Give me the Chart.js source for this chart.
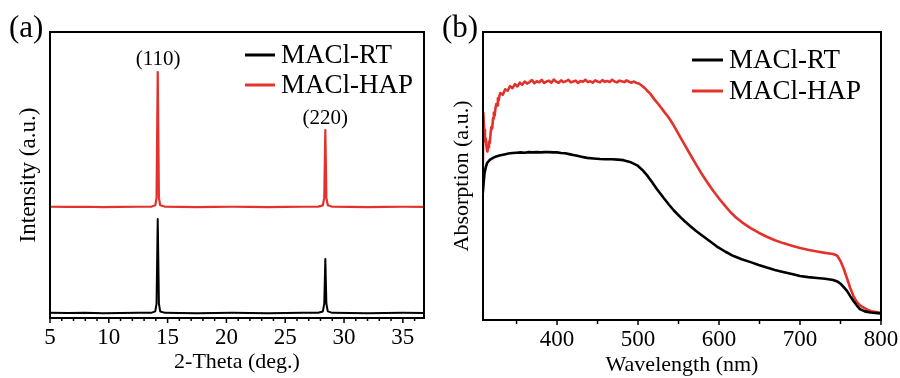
<!DOCTYPE html>
<html><head><meta charset="utf-8">
<script src="https://cdn.jsdelivr.net/npm/chart.js@4.4.1/dist/chart.umd.min.js"></script>
<style>
html,body{margin:0;padding:0;background:#fff;}
#wrap{position:relative;width:900px;height:378px;overflow:hidden;background:#fff;}
canvas{position:absolute;left:0;top:0;}
</style></head><body>
<div id="wrap"><canvas id="ca" width="900" height="378"></canvas><canvas id="cb" width="900" height="378"></canvas></div>
<script>
// ---------- Panel (a): XRD ----------
const seriesNames = ['MACl-RT', 'MACl-HAP'];
const xrdTheta = [5, 6.5, 8, 9.5, 11, 12.5, 13.6, 13.95, 14.06, 14.16, 14.26, 14.37, 14.8, 16, 17.5, 19, 20.5, 22, 23.5, 25, 26.5, 27.8, 28.2, 28.32, 28.41, 28.5, 28.62, 29, 30.5, 32, 33.5, 35, 36.8];
const xrdRT  = [1.8, 1.75, 1.8, 1.7, 1.75, 1.8, 1.8, 2.3, 5, 34.6, 5, 2.3, 1.8, 1.75, 1.7, 1.75, 1.8, 1.75, 1.7, 1.75, 1.8, 1.85, 2.3, 5, 20.6, 5, 2.3, 1.8, 1.75, 1.7, 1.75, 1.8, 1.75];
const xrdHAP = [38.9, 38.85, 38.9, 38.8, 38.85, 38.9, 38.9, 39.4, 42, 86, 42, 39.4, 38.9, 38.85, 38.8, 38.85, 38.9, 38.85, 38.8, 38.85, 38.9, 38.95, 39.4, 42, 65.7, 42, 39.4, 38.9, 38.85, 38.8, 38.85, 38.9, 38.85];
const xrdTicksMajor = 5;
const peakLabels = ['(110)', '(220)'];
const peakTheta = [14.2, 28.4];
const peakLabelY = [90.3, 69.6];

// ---------- Panel (b): absorption ----------
const wlHAP = [308, 309, 310, 311, 312, 313, 314, 315, 316, 317, 318, 319, 320, 321, 322, 323, 324, 325, 326, 327, 328, 329,
  330, 333, 336, 339, 342, 345, 348, 351, 354, 357, 360, 363, 366, 369, 372, 375, 378, 381, 384, 387, 390, 393, 396, 399,
  402, 405, 408, 411, 414, 417, 420, 423, 426, 429, 432, 435, 438, 441, 444, 447, 450, 453, 456, 459, 462, 465, 468, 471,
  474, 477, 480, 483, 486, 489, 492, 495, 498, 501, 504, 508, 511, 515, 520, 525, 531, 538, 544, 552, 558, 565, 571, 577,
  585, 593, 600, 607, 614, 621, 628, 639, 649, 659, 669, 679, 690, 700, 711, 721, 731, 741, 746, 750, 754, 758, 762, 766,
  770, 775, 783, 790, 799];
const absHAP = [40.6, 71.9, 66, 62, 63, 60, 58.5, 60, 62, 61.5, 65, 67, 66.5, 70, 72, 71, 73.5, 75, 74.5, 77, 76.3, 78,
  78.8, 78.2, 80.1, 79.6, 81.2, 80.5, 81.9, 81.1, 82.4, 81.7, 82.8, 82.1, 82.6, 83.3, 82.2, 82.9, 82.5, 83.4, 82.3, 82.8, 83.1, 82.4, 83.5, 82.7,
  82.4, 83.2, 82.6, 82.9, 83.4, 82.5, 82.8, 83.1, 82.3, 83, 82.7, 83.4, 82.6, 82.9, 82.4, 83.2, 82.8, 82.5, 83.3, 82.7, 83, 82.6, 83.4, 82.8,
  82.5, 83.1, 82.9, 82.6, 83.2, 82.7, 82.4, 82.8, 82.3, 82.1, 81.5, 80.6, 79.7, 78.6, 76.7, 75, 72.8, 70.2, 67.6, 63.6, 60.6, 57.2, 54.3, 51.5,
  48, 44.8, 42.2, 39.8, 37.5, 35.6, 34, 31.9, 30.3, 28.9, 27.7, 26.7, 25.8, 25, 24.3, 23.8, 23.3, 22.9, 22.3, 20.5, 17.8, 14.5, 11.1, 8.3,
  6.3, 4.9, 3.6, 2.9, 2.5];
const wlRT = [308.4, 309.5, 310.5, 312, 313.6, 316, 318, 321, 325, 330, 335, 340, 345, 350, 355, 360, 365, 370, 375, 380, 385, 390, 395, 400,
  405, 410, 415, 420, 425, 430, 437, 445, 453, 460, 468, 475, 482, 490, 499, 505, 511, 517, 523, 531, 538, 544, 552, 558, 565, 571, 577, 585,
  597, 608, 618, 628, 639, 649, 659, 669, 679, 690, 700, 710, 721, 731, 741, 746, 750, 754, 758, 762, 766, 770, 774, 780, 787, 799];
const absRT = [44.1, 48, 51, 53, 54.5, 55.3, 55.8, 56.3, 56.8, 57.2, 57.5, 57.8, 58, 58.1, 58.2, 58.1, 58.3, 58.2, 58.3, 58.2, 58.3, 58.3, 58.2, 58.2,
  58, 57.9, 57.6, 57.3, 57, 56.7, 56.3, 56.1, 55.9, 55.8, 55.8, 55.7, 55.5, 54.9, 53.7, 52.2, 50.3, 48, 45.6, 42.6, 40.1, 38.1, 35.8, 34.2, 32.5, 31.1, 29.8, 28.1,
  25.6, 23.7, 22.2, 21.1, 20.1, 19.1, 18.2, 17.4, 16.7, 16, 15.3, 14.9, 14.6, 14.3, 13.9, 13.4, 12.6, 11.4, 10.1, 8.3, 6.6, 5.1, 3.8, 3, 2.6, 2.3];
const wlTicksMajor = 100;

const RED = '#e4312b';
const BLACK = '#000000';
const FONT = "'Liberation Serif', 'Times New Roman', serif";
Chart.defaults.font.family = FONT;
Chart.defaults.color = '#000';

function zip(xs, ys) { return xs.map((x, i) => ({x: x, y: ys[i]})); }

const deco = {
  id: 'deco',
  afterDraw(chart, args, o) {
    const {ctx, chartArea: a} = chart;
    ctx.save();
    ctx.strokeStyle = '#000';
    ctx.lineWidth = 2;
    ctx.strokeRect(a.left, a.top, a.right - a.left, a.bottom - a.top);
    const xs = chart.scales.x;
    ctx.lineWidth = 1.5;
    xs.ticks.forEach(t => {
      const px = xs.getPixelForValue(t.value);
      const r = t.value % o.major;
      const major = Math.abs(r) < 1e-6 || Math.abs(r - o.major) < 1e-6;
      ctx.beginPath();
      ctx.moveTo(px, a.bottom);
      ctx.lineTo(px, a.bottom + (major ? o.majorLen : o.minorLen));
      ctx.stroke();
    });
    ctx.textBaseline = 'middle';
    ctx.textAlign = 'left';
    ctx.font = o.legendFont + 'px ' + FONT;
    chart.data.datasets.forEach((ds, i) => {
      const y = o.legendY[i];
      ctx.strokeStyle = ds.borderColor;
      ctx.lineWidth = 3;
      ctx.beginPath();
      ctx.moveTo(o.legendX, y);
      ctx.lineTo(o.legendX + o.legendLen, y);
      ctx.stroke();
      ctx.fillStyle = '#000';
      ctx.fillText(ds.label, o.legendX + o.legendLen + 6, y + 1);
    });
    ctx.font = o.letterFont + 'px ' + FONT;
    ctx.fillText(o.letter, o.letterX, o.letterY);
    if (o.peaks) {
      ctx.font = o.peakFont + 'px ' + FONT;
      ctx.textAlign = 'center';
      const ys = chart.scales.y;
      o.peaks.labels.forEach((l, i) => {
        ctx.fillText(l, xs.getPixelForValue(o.peaks.x[i]), ys.getPixelForValue(o.peaks.y[i]));
      });
    }
    ctx.restore();
  }
};

function makeChart(id, cfg) {
  return new Chart(document.getElementById(id), {
    type: 'line',
    data: {datasets: cfg.datasets},
    options: {
      responsive: false,
      animation: false,
      events: [],
      layout: {padding: cfg.padding},
      elements: {point: {radius: 0}, line: {tension: 0, borderJoinStyle: 'round'}},
      plugins: {legend: {display: false}, tooltip: {enabled: false}, deco: cfg.deco},
      scales: {
        x: {
          type: 'linear', min: cfg.xmin, max: cfg.xmax,
          grid: {display: false}, border: {display: false},
          ticks: {
            stepSize: cfg.step, includeBounds: false, autoSkip: false, maxRotation: 0,
            padding: -2, font: {size: 23},
            callback: v => (Math.abs(v % cfg.major) < 1e-6 ? String(v) : '')
          },
          title: {display: true, text: cfg.xtitle, font: {size: 22}, padding: {top: 0, bottom: cfg.xtitlePad}},
          afterFit: s => { s.height = cfg.xh; }
        },
        y: {
          min: 0, max: 100,
          grid: {display: false}, border: {display: false},
          ticks: {display: false},
          title: {display: true, text: cfg.ytitle, font: {size: cfg.ytitleSize}, padding: {top: cfg.ytitlePad, bottom: 0}},
          afterFit: s => { s.width = cfg.yw; }
        }
      }
    },
    plugins: [deco]
  });
}

makeChart('ca', {
  datasets: [
    {label: seriesNames[0], data: zip(xrdTheta, xrdRT), borderColor: BLACK, borderWidth: 2},
    {label: seriesNames[1], data: zip(xrdTheta, xrdHAP), borderColor: RED, borderWidth: 2.2}
  ],
  padding: {left: 0, right: 476, top: 32, bottom: 0},
  xmin: 5, xmax: 36.8, step: 1, major: xrdTicksMajor,
  xtitle: '2-Theta (deg.)', xtitlePad: 3, xh: 60,
  ytitle: 'Intensity (a.u.)', ytitleSize: 23, ytitlePad: 15, yw: 50,
  deco: {major: xrdTicksMajor, majorLen: 5, minorLen: 3,
         legendX: 245, legendLen: 30, legendY: [55, 85], legendFont: 27,
         letter: '(a)', letterX: 9, letterY: 29, letterFont: 31,
         peakFont: 21, peaks: {labels: peakLabels, x: peakTheta, y: peakLabelY}}
});

makeChart('cb', {
  datasets: [
    {label: seriesNames[0], data: zip(wlRT, absRT), borderColor: BLACK, borderWidth: 2.6},
    {label: seriesNames[1], data: zip(wlHAP, absHAP), borderColor: RED, borderWidth: 2.6}
  ],
  padding: {left: 445, right: 19, top: 32, bottom: 0},
  xmin: 308.6, xmax: 800, step: 50, major: wlTicksMajor,
  xtitle: 'Wavelength (nm)', xtitlePad: 0, xh: 58,
  ytitle: 'Absorption (a.u.)', ytitleSize: 22, ytitlePad: 4, yw: 38,
  deco: {major: wlTicksMajor, majorLen: 5, minorLen: 4,
         legendX: 692, legendLen: 31, legendY: [60, 91], legendFont: 27,
         letter: '(b)', letterX: 442, letterY: 29, letterFont: 31}
});
</script>
</body></html>
